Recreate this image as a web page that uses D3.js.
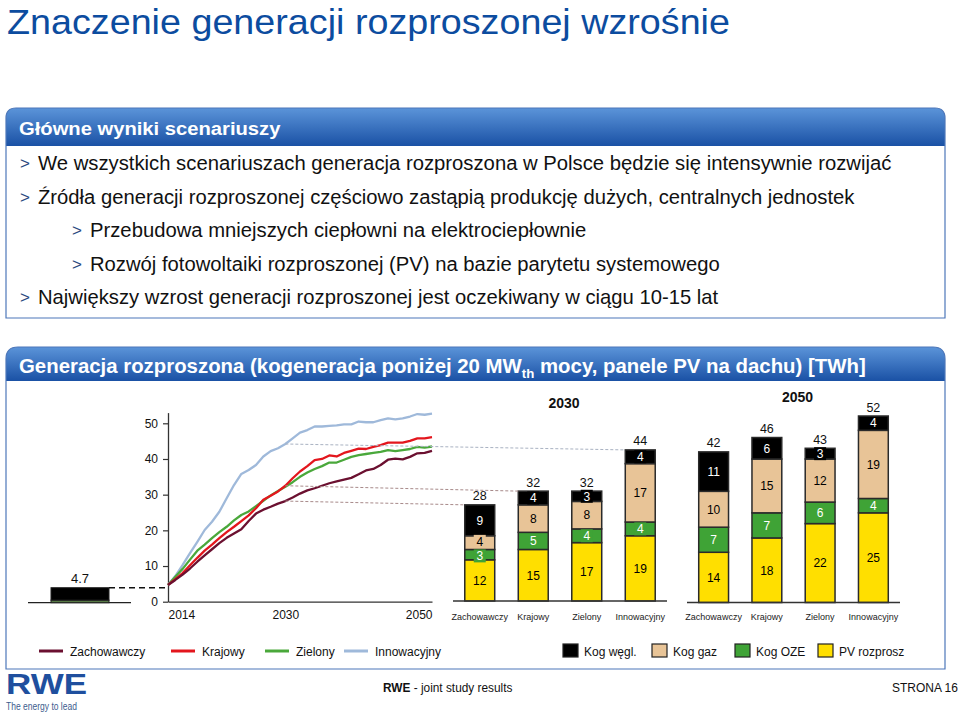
<!DOCTYPE html>
<html>
<head>
<meta charset="utf-8">
<script src="https://cdn.jsdelivr.net/npm/d3@7"></script>
<style>
body { margin: 0; background: #fff; }
svg { font-family: "Liberation Sans", Arial, sans-serif; }
</style>
</head>
<body>
<svg id="chart" width="960" height="715"></svg>
<script>
// ---- data ----
const years = [2014, 2015, 2016, 2017, 2018, 2019, 2020, 2021, 2022, 2023,
  2024, 2025, 2026, 2027, 2028, 2029, 2030, 2031, 2032, 2033,
  2034, 2035, 2036, 2037, 2038, 2039, 2040, 2041, 2042, 2043,
  2044, 2045, 2046, 2047, 2048, 2049, 2050];

const zachowawczy = [4.7, 6.1, 7.6, 9.3, 11.2, 13.0, 14.7, 16.4, 17.9, 19.1,
  20.3, 22.6, 24.7, 25.8, 26.6, 27.5, 28.2, 29.2, 30.3, 31.2,
  31.8, 32.5, 33.2, 33.7, 34.2, 34.7, 35.7, 36.8, 37.2, 38.3,
  39.8, 40.1, 39.9, 40.6, 41.6, 41.7, 42.3];
const krajowy = [4.7, 6.3, 8.0, 10.2, 12.3, 14.3, 16.0, 17.8, 19.5, 21.0,
  22.6, 24.2, 26.2, 28.6, 29.7, 30.9, 32.5, 34.6, 36.5, 38.0,
  39.7, 40.0, 41.0, 40.7, 41.7, 42.3, 42.9, 42.8, 43.4, 43.9,
  44.6, 44.6, 44.6, 45.1, 45.8, 45.8, 46.1];
const zielony = [4.7, 7.0, 9.2, 11.8, 14.3, 16.0, 17.8, 19.5, 21.0, 22.8,
  24.3, 25.3, 26.8, 28.3, 29.8, 31.0, 32.2, 33.5, 35.0, 36.2,
  37.2, 38.0, 39.0, 39.0, 39.8, 40.6, 41.1, 41.4, 41.7, 42.0,
  42.5, 42.2, 42.5, 42.8, 43.4, 43.2, 43.5];
const innowacyjny = [4.7, 7.2, 10.3, 13.6, 16.8, 20.1, 22.4, 25.2, 29.0, 32.7,
  35.8, 36.9, 38.3, 40.7, 42.2, 43.0, 44.2, 45.8, 47.4, 48.1,
  49.1, 49.1, 49.3, 49.4, 49.7, 49.7, 50.5, 50.3, 50.3, 50.9,
  51.4, 51.1, 51.4, 51.9, 52.6, 52.4, 52.7];

const scenarios = ["Zachowawczy", "Krajowy", "Zielony", "Innowacyjny"];
const sourceNames = ["Kog węgl.", "Kog gaz", "Kog OZE", "PV rozprosz"];

// 2030 stacks
const pv2030 = [12, 15, 17, 19];
const oze2030 = [3, 5, 4, 4];
const gaz2030 = [4, 8, 8, 17];
const wegl2030 = [9, 4, 3, 4];
// 2050 stacks
const pv2050 = [14, 18, 22, 25];
const oze2050 = [7, 7, 6, 4];
const gaz2050 = [10, 15, 12, 19];
const wegl2050 = [11, 6, 3, 4];
// 2014 starting point
const start2014 = { pv: 0, oze: 0.8, gaz: 0, wegl: 3.9 };

const yTicks = [0, 10, 20, 30, 40, 50];
const xTicks = [2014, 2030, 2050];
const linkedScenarios = ["Zachowawczy", "Krajowy", "Innowacyjny"];

const titleText = "Znaczenie generacji rozproszonej wzrośnie";
const box1Title = "Główne wyniki scenariuszy";
const bullets = [
  "We wszystkich scenariuszach generacja rozproszona w Polsce będzie się intensywnie rozwijać",
  "Źródła generacji rozproszonej częściowo zastąpią produkcję dużych, centralnych jednostek",
  "Przebudowa mniejszych ciepłowni na elektrociepłownie",
  "Rozwój fotowoltaiki rozproszonej (PV) na bazie parytetu systemowego",
  "Największy wzrost generacji rozproszonej jest oczekiwany w ciągu 10-15 lat"
];
const bulletLevel = [0, 0, 1, 1, 0];

// ---- styles ----
const lineColors = { Zachowawczy: "#6b1030", Krajowy: "#e3161d", Zielony: "#4aa83b", Innowacyjny: "#9fb9da" };
const keys = ["pv", "oze", "gaz", "wegl"];
const keyColor = { pv: "#ffdf00", oze: "#3fa336", gaz: "#e8c497", wegl: "#000000" };
const keyText = { pv: "#000", oze: "#fff", gaz: "#000", wegl: "#fff" };
const legendKeyOrder = ["wegl", "gaz", "oze", "pv"];
const blue = "#0c4c9f";

const svg = d3.select("#chart");

// squeeze a text element to a given width (the slide font is a narrow one)
function fit(sel, x0, y0, w, anchor) {
  const bw = sel.node().getBBox().width;
  const k = w / bw;
  const tx = anchor === "end" ? x0 - w : (anchor === "middle" ? x0 - w / 2 : x0);
  sel.attr("x", 0).attr("y", 0).attr("text-anchor", "start")
    .attr("transform", "translate(" + tx + "," + y0 + ") scale(" + k + ",1)");
  return sel;
}

const defs = svg.append("defs");
const grad = defs.append("linearGradient").attr("id", "hdr")
  .attr("x1", 0).attr("y1", 0).attr("x2", 0).attr("y2", 1);
grad.append("stop").attr("offset", "0%").attr("stop-color", "#5b94d9");
grad.append("stop").attr("offset", "100%").attr("stop-color", "#1a51a5");

// ---- title ----
fit(svg.append("text").text(titleText)
  .attr("font-size", 36).attr("fill", blue), 7, 34, 723);

// ---- boxes ----
function box(x0, y0, w, h, hh, r) {
  const head = "M" + x0 + "," + (y0 + hh) + " L" + x0 + "," + (y0 + r) +
    " Q" + x0 + "," + y0 + " " + (x0 + r) + "," + y0 +
    " L" + (x0 + w - r) + "," + y0 + " Q" + (x0 + w) + "," + y0 + " " + (x0 + w) + "," + (y0 + r) +
    " L" + (x0 + w) + "," + (y0 + hh) + " Z";
  svg.append("path").attr("d", head).attr("fill", "url(#hdr)");
  const outline = "M" + x0 + "," + (y0 + h) + " L" + x0 + "," + (y0 + r) +
    " Q" + x0 + "," + y0 + " " + (x0 + r) + "," + y0 +
    " L" + (x0 + w - r) + "," + y0 + " Q" + (x0 + w) + "," + y0 + " " + (x0 + w) + "," + (y0 + r) +
    " L" + (x0 + w) + "," + (y0 + h) + " Z";
  svg.append("path").attr("d", outline).attr("fill", "none")
    .attr("stroke", "#4d77b9").attr("stroke-width", 1.2);
}
box(6, 108, 939, 210, 38, 10);
box(6, 347, 939, 322, 34, 12);

fit(svg.append("text").text(box1Title)
  .attr("font-size", 19).attr("font-weight", "bold").attr("fill", "#fff"), 19, 135, 262);

const bulletWidths = [854, 818, 497, 630, 681];
bullets.forEach((t, i) => {
  const by = 170 + i * 33.5;
  const indent = bulletLevel[i] ? 52 : 0;
  svg.append("text").text(">").attr("x", 20 + indent).attr("y", by - 1)
    .attr("font-size", 17).attr("fill", "#2a4a7e");
  fit(svg.append("text").text(t).attr("font-size", 20).attr("fill", "#111"),
    38 + indent, by, bulletWidths[i]);
});

const h2 = svg.append("text").attr("font-size", 20).attr("font-weight", "bold").attr("fill", "#fff");
h2.append("tspan").text("Generacja rozproszona (kogeneracja poniżej 20 MW");
h2.append("tspan").text("th").attr("font-size", 13).attr("dy", 5);
h2.append("tspan").text(" mocy, panele PV na dachu) [TWh]").attr("dy", -5);
fit(h2, 19, 373, 847);

// ---- line chart ----
const x = d3.scaleLinear().domain([2014, 2050]).range([168, 432]);
const y = d3.scaleLinear().domain([0, 53]).range([601.7, 412.6]);

const gy = svg.append("g").attr("transform", "translate(168,0)")
  .call(d3.axisLeft(y).tickValues(yTicks).tickSize(5).tickSizeOuter(0).tickPadding(5));
const gx = svg.append("g").attr("transform", "translate(0,601.7)")
  .call(d3.axisBottom(x).tickValues(xTicks).tickFormat(d3.format("d")).tickSize(0).tickSizeOuter(0).tickPadding(9));
[gx, gy].forEach(g => {
  g.select(".domain").attr("stroke", "#333").attr("stroke-width", 1.3);
  g.selectAll(".tick line").attr("stroke", "#333").attr("stroke-width", 1.2);
  g.selectAll(".tick text").attr("font-size", 12).attr("fill", "#111")
    .attr("font-family", "Liberation Sans, Arial, sans-serif");
});
gx.selectAll(".tick text").attr("text-anchor", (d, i) => i === 0 ? "start" : (i === xTicks.length - 1 ? "end" : "middle"));

const series = { Zachowawczy: zachowawczy, Krajowy: krajowy, Zielony: zielony, Innowacyjny: innowacyjny };
const line = d3.line().x((d, i) => x(years[i])).y(d => y(d));
["Innowacyjny", "Zielony", "Krajowy", "Zachowawczy"].forEach(s => {
  svg.append("path").datum(series[s]).attr("d", line)
    .attr("fill", "none").attr("stroke", lineColors[s]).attr("stroke-width", 2.3)
    .attr("stroke-linejoin", "round");
});

// ---- 2014 bar ----
const y14 = d3.scaleLinear().domain([0, 4.7]).range([602.7, 587.7]);
const stack = d3.stack().keys(keys);
const s14 = stack([start2014]);
svg.append("line").attr("x1", 28).attr("x2", 131).attr("y1", 602.7).attr("y2", 602.7)
  .attr("stroke", "#222").attr("stroke-width", 1.3);
s14.forEach(layer => {
  const d = layer[0];
  if (d[1] - d[0] <= 0) return;
  svg.append("rect").attr("x", 51).attr("width", 58)
    .attr("y", y14(d[1])).attr("height", y14(d[0]) - y14(d[1]))
    .attr("fill", layer.key === "oze" ? "#577a45" : keyColor[layer.key])
    .attr("stroke", "#222").attr("stroke-width", 1);
});
const total14 = keys.reduce((a, k) => a + start2014[k], 0);
svg.append("text").text(d3.format(".1f")(total14)).attr("x", 80).attr("y", y14(total14) - 5)
  .attr("text-anchor", "middle").attr("font-size", 13).attr("fill", "#111");
svg.append("line").attr("x1", 109).attr("x2", x(2014)).attr("y1", y14(total14)).attr("y2", y14(total14))
  .attr("stroke", "#111").attr("stroke-width", 1.6).attr("stroke-dasharray", "6,4");

// ---- stacked bars ----
function panel(label, pv, oze, gaz, wegl, range, base, top, topVal, labelY) {
  const rows = scenarios.map((s, i) => ({ scen: s, pv: pv[i], oze: oze[i], gaz: gaz[i], wegl: wegl[i] }));
  const bx = d3.scaleBand().domain(scenarios).range(range).paddingInner(0.44).paddingOuter(0.22);
  const by = d3.scaleLinear().domain([0, topVal]).range([base, top]);
  const g = svg.append("g");
  g.append("text").text(label).attr("x", (range[0] + range[1]) / 2 + 4).attr("y", labelY)
    .attr("text-anchor", "middle").attr("font-size", 14).attr("font-weight", "bold").attr("fill", "#111");
  const layers = stack(rows);
  layers.forEach(layer => {
    g.selectAll(null).data(layer).enter().append("rect")
      .attr("x", d => bx(d.data.scen)).attr("width", bx.bandwidth())
      .attr("y", d => by(d[1])).attr("height", d => by(d[0]) - by(d[1]))
      .attr("fill", keyColor[layer.key]).attr("stroke", "#2a2a2a").attr("stroke-width", 1.5);
  });
  // segment labels, bottom to top per bar, pushed apart when segments are thin
  rows.forEach((r, ri) => {
    const cx = bx(r.scen) + bx.bandwidth() / 2;
    const labs = layers.map(layer => {
      const d = layer[ri];
      return { key: layer.key, v: d[1] - d[0], cy: (by(d[0]) + by(d[1])) / 2, h: by(d[0]) - by(d[1]) };
    });
    const gap = 14.5;
    for (let i = 1; i < labs.length; i++) {
      const diff = labs[i - 1].cy - labs[i].cy;
      if (diff < gap) {
        const push = (gap - diff) / 2;
        labs[i - 1].cy += push;
        labs[i].cy -= push;
      }
    }
    labs.forEach(l => {
      if (l.h < 14) {
        g.append("rect").attr("x", cx - 6).attr("y", l.cy - 6.5).attr("width", 12).attr("height", 13)
          .attr("fill", keyColor[l.key]);
      }
      g.append("text").text(l.v).attr("x", cx).attr("y", l.cy + 4.3)
        .attr("text-anchor", "middle").attr("font-size", 12).attr("fill", keyText[l.key]);
    });
  });
  rows.forEach(r => {
    const tot = keys.reduce((a, k) => a + r[k], 0);
    const cx = bx(r.scen) + bx.bandwidth() / 2;
    g.append("text").text(tot).attr("x", cx).attr("y", by(tot) - 4.5)
      .attr("text-anchor", "middle").attr("font-size", 12.5).attr("fill", "#111");
    g.append("text").text(r.scen).attr("x", cx).attr("y", 620)
      .attr("text-anchor", "middle").attr("font-size", 9).attr("fill", "#222");
  });
  g.append("line").attr("x1", range[0]).attr("x2", range[1]).attr("y1", base).attr("y2", base)
    .attr("stroke", "#333").attr("stroke-width", 1.5);
  return { bx: bx, by: by, rows: rows };
}

const p30 = panel("2030", pv2030, oze2030, gaz2030, wegl2030, [453, 667], 601, 449.9, 44, 408);
panel("2050", pv2050, oze2050, gaz2050, wegl2050, [687, 900], 602.5, 416, 52, 402);

// dashed connectors from the 2030 line values to the 2030 bars
const i2030 = years.indexOf(2030);
linkedScenarios.forEach(s => {
  const r = p30.rows.find(d => d.scen === s);
  const tot = keys.reduce((a, k) => a + r[k], 0);
  svg.append("line")
    .attr("x1", x(2030)).attr("y1", y(series[s][i2030]))
    .attr("x2", p30.bx(s)).attr("y2", p30.by(tot))
    .attr("stroke", s === "Innowacyjny" ? "#a9b2c2" : "#a88a8a")
    .attr("stroke-width", 1).attr("stroke-dasharray", "3,2");
});

// ---- legend ----
const lineLegX = [39, 171, 265, 344];
scenarios.forEach((s, i) => {
  svg.append("line").attr("x1", lineLegX[i]).attr("x2", lineLegX[i] + 24).attr("y1", 651).attr("y2", 651)
    .attr("stroke", lineColors[s]).attr("stroke-width", 3);
  svg.append("text").text(s).attr("x", lineLegX[i] + 31).attr("y", 655.5)
    .attr("font-size", 12).attr("fill", "#111");
});
const boxLegX = [563, 652, 735, 818];
legendKeyOrder.forEach((k, i) => {
  svg.append("rect").attr("x", boxLegX[i]).attr("y", 644).attr("width", 15).attr("height", 13)
    .attr("fill", keyColor[k]).attr("stroke", "#222").attr("stroke-width", 1.2);
  svg.append("text").text(sourceNames[i]).attr("x", boxLegX[i] + 21).attr("y", 655.5)
    .attr("font-size", 12).attr("fill", "#111");
});

// ---- footer ----
fit(svg.append("text").text("RWE").attr("font-size", 30).attr("font-weight", 900)
  .attr("fill", "#1f4f9e"), 6, 694, 81);
fit(svg.append("text").text("The energy to lead").attr("font-size", 11).attr("fill", "#3d5c8e"), 6, 710, 71);
const ft = svg.append("text").attr("font-size", 13).attr("fill", "#111");
ft.append("tspan").text("RWE").attr("font-weight", "bold");
ft.append("tspan").text(" - joint  study results");
fit(ft, 383, 692, 130);
fit(svg.append("text").text("STRONA 16").attr("font-size", 13).attr("fill", "#111"), 958, 692, 66, "end");
</script>
</body>
</html>
